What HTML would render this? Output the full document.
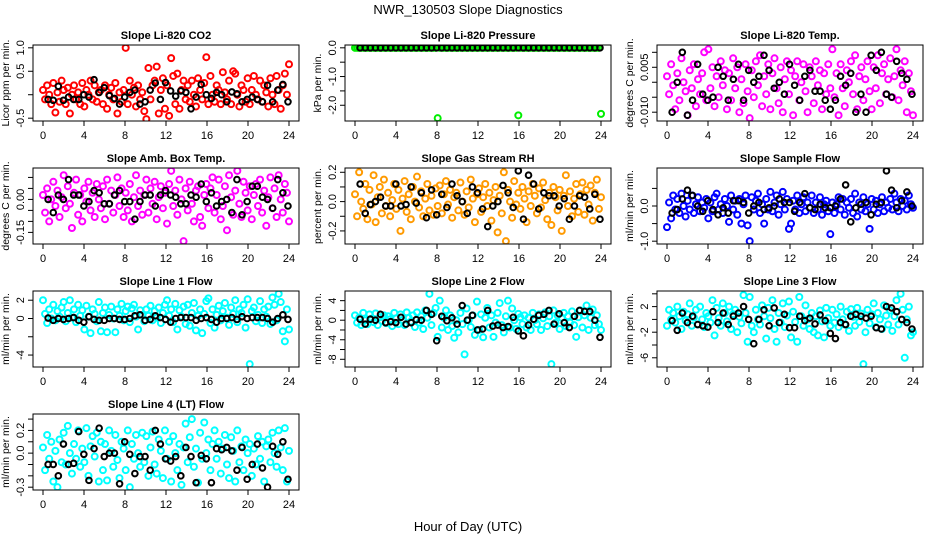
<!DOCTYPE html>
<html><head><meta charset="utf-8"><style>
html,body{margin:0;padding:0;background:#fff;}
svg{display:block;font-family:"Liberation Sans",Arial,sans-serif;}
</style></head><body>
<svg id="chart" width="936" height="540" viewBox="0 0 936 540">
<text x="468" y="14" text-anchor="middle" font-size="13">NWR_130503  Slope Diagnostics</text>
<text x="468" y="531" text-anchor="middle" font-size="13">Hour of Day (UTC)</text>
</svg>
<script>
// ---- data ----
const xTicks = [0,4,8,12,16,20,24];
const panelTitles = ["Slope Li-820 CO2","Slope Li-820 Pressure","Slope Li-820 Temp.","Slope Amb. Box Temp.","Slope Gas Stream RH","Slope Sample Flow","Slope Line 1 Flow","Slope Line 2 Flow","Slope Line 3 Flow","Slope Line 4 (LT) Flow"];
const panelUnits = ["Licor ppm per min.","kPa per min.","degrees C per min.","degrees C per min.","percent per min.","ml/min per min.","ml/min per min.","ml/min per min.","ml/min per min.","ml/min per min."];
const panelColors = ["#ff0000","#00ee00","#ff00ff","#ff00ff","#ff9a00","#0000ff","#00ffff","#00ffff","#00ffff","#00ffff"];
const yLimits = [[-0.5,1.0],[-2.45,0],[-0.012,0.0115],[-0.19,0.13],[-0.27,0.21],[-1.0,1.0],[-5.0,2.7],[-9,5.4],[-7,4],[-0.3,0.32]];
const yTicks = [[-0.5,0,0.5,1.0],[0,-0.5,-1,-1.5,-2],[0.01,0.005,0,-0.005,-0.01],[0.1,0.05,0,-0.05,-0.1,-0.15],[-0.2,-0.1,0,0.1,0.2],[-1,-0.5,0,0.5],[-4,-2,0,2],[-8,-6,-4,-2,0,2,4],[-6,-4,-2,0,2,4],[-0.3,-0.2,-0.1,0,0.1,0.2,0.3]];
const yTickLabels = [["-0.5","","0.5","1.0"],["0.0","","-1.0","","-2.0"],["","0.005","","","-0.010"],["","","0.00","","","-0.15"],["-0.2","","0.0","","0.2"],["-1.0","","0.0",""],["-4","","0","2"],["-8","","-4","","0","","4"],["-6","","-2","","2",""],["-0.3","","","0.0","","0.2",""]];

const co2Color = [0.1,-0.1,0.2,0.0,-0.2,0.25,-0.38,0.05,-0.15,0.3,0.1,-0.2,0.15,-0.4,0.0,0.2,-0.1,0.05,-0.2,0.25,-0.25,0.1,0.0,0.3,-0.1,0.2,-0.15,0.05,0.1,-0.2,0.2,-0.3,0.0,0.15,-0.1,0.25,-0.4,0.05,-0.15,0.1,1.0,-0.2,0.3,0.0,0.15,-0.25,0.2,-0.1,0.05,-0.35,-0.52,0.57,-0.1,0.2,0.3,0.6,-0.4,0.1,0.35,-0.3,0.2,-0.45,0.78,0.4,-0.2,0.45,-0.3,0.1,0.3,-0.1,0.2,-0.15,0.3,0.0,-0.25,0.35,0.1,-0.1,0.25,0.8,-0.2,0.4,0.0,-0.15,0.2,0.1,-0.2,0.48,0.05,-0.1,0.3,-0.2,0.5,0.45,0.0,-0.25,0.2,0.1,-0.15,0.35,-0.2,0.1,0.4,0.0,-0.1,0.3,-0.15,0.2,0.05,-0.25,0.35,0.0,-0.2,0.4,0.1,-0.3,0.2,0.45,0.0,0.65];
const co2Black = [-0.1,-0.12,0.18,-0.12,-0.05,-0.1,-0.1,0.0,-0.05,0.32,0.05,0.15,-0.02,-0.08,-0.2,-0.05,0.05,0.1,-0.2,-0.15,0.1,0.25,-0.1,0.26,0.08,-0.03,0.08,0.05,-0.3,-0.05,0.22,0.0,-0.08,0.05,0.0,-0.15,0.06,0.02,-0.15,-0.1,-0.05,-0.1,-0.15,0.2,-0.15,0.1,0.22,-0.15];
const presColor = [0,0,0,0,0,0,0,0,0,0,0,0,0,0,0,0,0,0,0,0,0,0,0,0,0,0,0,0,0,0,0,0,0,0,0,0,0,0,0,0,-2.45,0,0,0,0,0,0,0,0,0,0,0,0,0,0,0,0,0,0,0,0,0,0,0,0,0,0,0,0,0,0,0,0,0,0,0,0,0,0,-2.35,0,0,0,0,0,0,0,0,0,0,0,0,0,0,0,0,0,0,0,0,0,0,0,0,0,0,0,0,0,0,0,0,0,0,0,0,0,0,0,-2.3];
const presBlack = [0,0,0,0,0,0,0,0,0,0,0,0,0,0,0,0,0,0,0,0,0,0,0,0,0,0,0,0,0,0,0,0,0,0,0,0,0,0,0,0,0,0,0,0,0,0,0,0];
const tempColor = [0.002,-0.004,0.006,-0.001,-0.009,0.003,-0.006,0.008,0.000,-0.003,-0.011,0.004,-0.002,0.006,-0.008,0.001,-0.004,0.003,0.010,-0.006,0.011,-0.002,0.005,-0.008,0.002,-0.005,0.007,-0.001,0.004,-0.009,0.003,-0.006,0.008,-0.002,0.005,-0.010,0.001,-0.007,0.006,-0.003,-0.012,0.004,-0.005,0.007,-0.001,0.009,-0.008,0.002,-0.004,0.006,-0.009,0.003,0.008,-0.002,-0.007,0.005,-0.010,0.001,0.007,-0.004,0.004,-0.011,0.002,0.007,-0.006,0.000,0.006,-0.003,-0.010,0.005,0.002,-0.007,0.007,-0.001,0.004,-0.009,0.003,-0.004,0.006,-0.002,0.011,-0.005,0.003,-0.011,0.006,-0.002,-0.008,0.004,0.000,0.007,-0.004,0.009,-0.009,0.002,0.005,-0.006,0.001,0.007,-0.003,-0.009,0.005,-0.002,0.009,-0.007,0.003,0.006,-0.004,0.001,0.008,-0.005,0.002,0.011,-0.006,0.004,-0.001,0.007,-0.010,0.003,-0.003,-0.011];
const tempBlack = [-0.010,0.000,0.010,-0.011,-0.006,0.006,-0.004,-0.006,-0.005,0.005,0.002,-0.006,0.001,0.006,-0.006,0.004,0.000,0.002,0.009,0.004,-0.002,0.000,-0.004,0.006,-0.001,-0.006,0.002,0.004,-0.003,-0.003,-0.006,-0.009,-0.006,0.002,-0.001,0.003,-0.010,-0.004,-0.010,0.009,0.004,0.010,-0.004,-0.005,0.007,0.003,0.001,-0.004];
const ambColor = [0.02,-0.06,0.05,-0.10,0.00,0.08,-0.03,0.04,-0.08,0.01,0.11,-0.04,0.06,-0.02,-0.13,0.03,0.09,-0.07,0.02,-0.10,0.05,-0.01,0.08,-0.05,0.03,-0.08,0.07,0.00,-0.04,0.06,-0.09,0.09,-0.02,0.04,-0.06,0.02,0.10,-0.03,0.05,-0.08,0.03,-0.05,0.07,-0.10,0.01,0.11,-0.03,0.04,-0.07,0.02,0.09,-0.06,0.05,-0.02,0.08,-0.09,0.01,0.06,-0.04,0.03,-0.11,0.07,0.13,-0.03,0.04,-0.07,0.09,0.00,-0.19,0.05,-0.05,0.08,-0.02,-0.10,0.04,0.06,-0.08,-0.12,0.02,0.07,-0.04,0.05,0.10,-0.06,0.02,0.09,-0.09,-0.03,0.06,-0.14,0.11,0.01,-0.07,0.04,0.13,-0.02,-0.08,0.08,0.03,-0.05,0.06,-0.09,0.02,0.07,-0.03,0.09,-0.06,0.04,-0.12,0.01,0.10,-0.04,0.05,-0.08,0.11,0.00,-0.06,0.07,0.03,-0.10];
const ambBlack = [0.00,-0.06,0.02,0.00,0.09,0.02,0.02,-0.03,-0.01,0.04,0.03,-0.02,-0.02,0.02,0.04,-0.01,-0.01,-0.09,-0.01,0.02,0.02,-0.03,0.02,0.04,0.02,0.01,-0.02,-0.02,0.02,0.01,0.07,-0.01,0.03,-0.03,-0.01,0.00,-0.06,0.09,-0.07,-0.01,0.06,0.06,0.01,0.00,-0.04,0.09,0.03,-0.03];
const rhColor = [0.05,-0.10,0.20,0.00,-0.05,0.12,-0.12,0.08,-0.02,0.18,-0.14,0.03,0.10,-0.08,0.15,-0.03,0.06,-0.10,0.01,0.12,-0.05,0.08,-0.20,0.02,0.14,-0.07,0.05,-0.12,0.10,0.00,0.17,-0.04,0.07,-0.10,0.02,0.12,-0.06,0.04,-0.09,0.09,-0.03,0.11,-0.08,0.05,0.14,-0.02,0.08,-0.11,0.03,0.06,-0.06,0.13,0.00,-0.09,0.07,-0.04,0.15,0.02,-0.14,0.05,0.09,-0.07,0.03,0.12,-0.03,0.06,-0.13,0.01,0.10,-0.21,0.04,-0.08,0.20,-0.27,0.08,0.00,-0.11,0.14,-0.02,0.06,-0.05,0.10,0.02,-0.14,0.07,-0.03,0.12,0.04,-0.08,0.09,-0.04,0.13,0.01,-0.12,0.06,-0.16,0.10,0.03,-0.06,0.08,-0.20,0.04,0.18,-0.03,0.07,-0.10,0.02,0.12,-0.07,0.05,0.13,-0.09,0.08,-0.02,0.11,-0.13,0.06,0.15,-0.05,0.03];
const rhBlack = [0.12,-0.08,-0.02,0.00,0.03,-0.03,-0.03,0.12,-0.03,-0.02,0.10,-0.01,0.06,-0.11,0.08,-0.09,0.05,-0.04,0.12,0.04,0.00,-0.08,0.10,0.06,-0.05,-0.17,-0.03,0.00,0.11,0.06,-0.04,0.21,-0.12,0.18,0.12,-0.05,0.06,0.04,0.04,-0.03,0.02,-0.12,-0.03,0.04,0.03,-0.05,0.05,-0.12];
const sampleColor = [-0.6,0.1,-0.35,0.3,-0.1,0.2,-0.2,0.35,0.0,-0.3,0.15,-0.1,0.3,-0.2,0.05,0.25,-0.15,0.1,-0.05,0.2,-0.35,0.1,-0.15,0.25,0.35,-0.1,0.05,-0.2,0.2,0.0,-0.45,0.3,-0.1,0.15,-0.25,0.2,-0.5,0.05,0.3,-0.55,-1.0,0.25,-0.1,0.15,0.35,-0.2,0.05,-0.5,0.2,-0.1,0.4,-0.15,0.1,0.3,-0.25,0.05,0.4,-0.1,0.2,-0.65,-0.5,0.15,-0.1,0.3,-0.2,0.05,0.25,-0.15,0.1,-0.05,0.3,-0.2,0.1,-0.1,0.25,-0.25,0.05,0.15,-0.15,-0.8,0.1,-0.2,0.05,0.25,-0.1,0.2,-0.25,0.1,-0.05,0.2,-0.2,0.35,-0.3,0.1,-0.1,0.25,-0.15,0.05,-0.65,0.2,-0.1,0.15,-0.2,0.05,0.25,-0.15,0.1,-0.05,0.2,-0.1,0.35,0.1,-0.15,0.2,0.0,0.15,-0.1,0.3,0.05,-0.05];
const sampleBlack = [-0.2,-0.1,0.2,0.45,0.3,0.0,-0.15,0.15,-0.1,-0.25,-0.05,-0.2,0.15,0.15,0.1,-0.2,0.0,0.1,-0.1,-0.05,0.0,0.2,0.1,0.1,-0.15,0.1,0.35,-0.05,-0.1,0.05,-0.05,-0.05,0.0,0.2,0.6,-0.45,-0.05,0.05,0.1,-0.25,0.05,0.1,1.0,0.45,-0.05,0.15,0.4,0.0];
const line1Color = [2.0,0.5,-0.5,1.0,0.0,1.5,-0.2,0.8,0.2,1.2,1.8,-0.3,0.6,2.0,0.1,1.0,-0.4,1.5,0.3,0.9,-1.2,1.4,0.2,-1.6,1.0,0.5,-0.3,1.8,-1.4,0.6,1.2,-1.5,0.4,1.3,0.0,-1.5,1.0,0.3,1.6,-0.2,0.8,1.3,-0.4,1.1,1.5,0.2,-1.2,0.9,0.4,-0.3,1.0,0.3,1.4,-0.2,0.8,0.1,1.2,-0.5,0.6,1.5,2.0,0.3,1.0,-0.4,1.6,-1.2,0.9,0.2,1.3,-0.6,1.5,-0.8,0.6,1.7,-1.3,0.3,1.0,-1.6,0.5,1.9,2.2,-0.5,1.0,-1.0,0.4,1.4,-0.2,0.8,1.7,0.1,-0.7,1.2,0.5,2.0,-0.4,1.0,0.6,1.5,-1.0,2.1,-5.0,0.8,1.2,-0.3,0.4,1.9,-0.5,1.0,0.2,1.3,-0.6,2.3,1.5,-0.2,2.7,1.8,-1.4,-2.5,1.0,-1.2];
const line1Black = [0.05,-0.2,0.0,-0.1,0.0,0.1,-0.2,-0.4,0.2,-0.1,-0.2,-0.2,0.0,0.0,-0.1,-0.1,0.0,0.3,0.4,-0.2,-0.1,0.3,0.1,-0.1,-0.4,0.0,0.1,0.1,0.1,-0.2,0.0,0.1,-0.1,-0.4,0.0,0.0,0.1,-0.1,0.2,0.0,0.1,0.1,0.1,0.0,-0.4,0.0,0.4,-0.1];
const line2Color = [1.0,-0.5,0.5,-1.0,1.5,0.0,-0.8,1.2,0.3,-0.4,1.4,-1.0,0.6,-0.2,1.0,-0.6,0.8,0.2,-1.2,1.5,0.4,-0.8,1.2,0.0,-1.0,1.6,0.5,-0.3,1.0,-1.4,1.6,-0.5,0.8,-1.8,2.0,0.5,5.4,-1.0,1.5,2.5,-3.4,4.0,-1.5,0.5,2.0,-2.0,1.0,-1.2,-3.6,0.0,-2.5,1.5,-0.8,-7.0,2.4,0.0,-1.4,1.0,-3.0,3.8,-2.0,1.2,-3.5,0.5,2.5,-1.5,1.0,-3.4,-0.5,1.5,3.5,-1.0,-2.5,0.8,4.0,-1.5,2.4,0.0,-1.8,1.3,0.6,-0.8,1.0,-1.5,0.5,-2.0,1.5,0.0,-0.8,1.2,-2.0,0.4,1.6,-1.2,0.8,-9.0,2.0,-0.5,1.0,-1.8,0.5,1.5,-1.2,0.8,-0.5,1.8,-1.0,-3.4,0.6,2.0,-1.5,1.0,3.0,-2.0,0.5,2.2,-1.0,1.0,-0.8,-2.0];
const line2Black = [0.2,-0.8,0.2,0.0,1.2,-0.5,-0.3,-0.5,0.6,-0.8,-0.5,0.1,0.0,2.0,1.2,-4.2,0.8,-0.1,0.5,-0.8,3.0,0.0,1.0,-2.0,-1.8,2.0,-1.2,-1.0,-1.5,-1.3,0.6,-2.2,-3.2,-1.0,0.2,1.0,1.2,2.0,-0.8,1.3,-0.5,-1.5,0.8,2.0,1.8,1.8,0.0,-3.5];
const line3Color = [-1.0,1.5,0.0,1.0,-0.5,2.0,0.5,-1.5,1.2,-0.2,0.8,2.5,-1.0,0.3,1.5,-0.8,2.0,0.0,-1.2,1.0,0.5,-0.5,3.0,-2.5,1.8,0.2,-1.0,2.5,1.0,-0.3,2.0,-1.5,0.8,1.5,-2.0,0.4,-0.6,3.8,1.0,-3.5,3.5,-1.0,-2.0,1.5,0.0,-0.8,2.2,0.5,-3.0,1.8,0.2,3.0,-1.5,-3.5,1.0,-0.5,2.5,-1.2,0.6,2.8,-2.8,1.2,-0.4,-3.5,3.5,0.5,-1.0,2.2,0.0,-1.5,1.0,-2.0,0.5,-2.5,1.4,-0.3,-2.8,1.8,0.2,-1.0,1.5,-0.5,0.8,-1.2,2.0,0.0,-0.8,1.2,-1.8,1.6,0.4,-1.0,1.8,-0.4,0.9,-7.0,-2.0,1.5,-0.6,0.8,2.5,-1.2,1.0,0.0,-1.5,2.2,0.6,-0.8,1.4,-1.8,0.5,3.0,-0.8,4.0,1.5,-6.0,0.0,2.0,-2.5,-2.0];
const line3Black = [-0.2,-1.7,1.0,-0.5,0.5,-0.8,-1.0,-1.2,1.2,-0.5,1.0,-0.8,0.5,1.0,2.0,0.0,-3.8,0.0,1.5,-1.0,1.8,-0.5,0.8,-1.3,-1.3,0.5,-0.2,0.2,-0.7,0.7,-0.2,-2.2,-3.0,-0.5,-0.8,0.5,0.8,0.5,0.2,0.5,-1.3,-1.5,2.0,1.8,1.2,0.0,-0.5,-1.5];
const line4Color = [0.05,-0.15,0.16,-0.05,0.10,-0.25,0.02,-0.30,0.12,-0.08,0.18,-0.10,0.24,0.00,-0.18,0.08,-0.05,0.20,-0.12,0.04,-0.08,0.22,-0.20,0.06,0.15,-0.03,0.18,-0.25,0.10,-0.15,0.08,-0.24,0.20,0.02,-0.12,0.16,-0.06,-0.22,0.10,0.04,-0.15,0.20,-0.30,0.08,-0.05,0.16,0.00,-0.12,0.18,-0.08,0.15,-0.20,0.05,0.19,-0.10,-0.18,0.12,0.02,-0.22,0.20,-0.05,0.10,-0.25,0.15,0.00,-0.15,0.08,-0.28,0.05,0.26,-0.08,0.14,0.30,-0.12,0.04,-0.26,0.18,-0.05,0.27,0.00,0.12,-0.15,0.08,0.20,-0.05,0.10,-0.18,0.04,0.16,-0.10,-0.22,0.14,0.02,-0.25,0.20,-0.08,0.06,-0.15,0.12,0.00,0.08,-0.20,0.04,-0.10,0.15,-0.05,0.10,-0.25,0.06,0.12,-0.08,0.18,0.00,-0.12,0.20,0.05,-0.15,0.22,-0.25,0.02];
const line4Black = [-0.1,-0.1,-0.2,0.08,-0.1,-0.09,0.19,-0.01,-0.24,0.04,0.22,-0.03,0.0,0.0,-0.27,0.1,-0.01,-0.18,-0.03,-0.03,-0.15,0.2,0.08,-0.05,-0.07,-0.03,-0.2,0.05,-0.03,-0.26,-0.02,-0.05,-0.26,0.04,0.03,0.05,0.02,-0.15,0.05,-0.23,-0.1,0.08,-0.13,-0.3,0.06,-0.01,0.1,-0.23];

const colorSeries = [co2Color,presColor,tempColor,ambColor,rhColor,sampleColor,line1Color,line2Color,line3Color,line4Color];
const blackSeries = [co2Black,presBlack,tempBlack,ambBlack,rhBlack,sampleBlack,line1Black,line2Black,line3Black,line4Black];

// ---- drawing ----
const NS = "http://www.w3.org/2000/svg";
const svg = document.getElementById("chart");
const colLeft = [33,345,657], rowTop = [45,168,291,414], BW = 266, BH = 76;
function mk(tag, attrs, parent){ const e=document.createElementNS(NS,tag); for(const k in attrs) e.setAttribute(k,attrs[k]); (parent||svg).appendChild(e); return e; }
function slug(s){ return s.toLowerCase().replace(/[^a-z0-9]+/g,'-').replace(/^-|-$/g,''); }

panelTitles.forEach((title, p) => {
  const L = colLeft[p%3], T = rowTop[Math.floor(p/3)];
  const g = mk("g",{});
  
  
  const xs = h => L + 10 + h*(BW-20)/24;
  const [y0,y1] = yLimits[p];
  const pad = (y1-y0)*0.04;
  const ys = v => T + BH - (v-(y0-pad))/((y1+pad)-(y0-pad))*BH;

  const t = mk("text",{x:L+BW/2,y:T-6,"text-anchor":"middle","font-size":"11","font-weight":"bold"},g);
  t.textContent = title;
  
  

  const clip = mk("clipPath",{id:"clip"+p},g);
  mk("rect",{x:L,y:T,width:BW,height:BH},clip);
  const pts = mk("g",{"clip-path":"url(#clip"+p+")"},g);
  const cs = colorSeries[p], n = cs.length;
  cs.forEach((v,i) => {
    const c = mk("circle",{cx:xs(i*24/(n-1)),cy:ys(v),r:3,fill:"none",stroke:panelColors[p],"stroke-width":2},pts);
    
    
  });
  const bs = blackSeries[p], m = bs.length;
  bs.forEach((v,i) => {
    const c = mk("circle",{cx:xs(0.5 + i*23.4/(m-1)),cy:ys(v),r:2.8,fill:"none",stroke:"#000","stroke-width":2},pts);
    
    
  });

  const box = mk("rect",{x:L,y:T,width:BW,height:BH,fill:"none",stroke:"#000","stroke-width":1},g);
  
  

  xTicks.forEach(h => {
    const x = xs(h);
    mk("line",{x1:x,y1:T+BH,x2:x,y2:T+BH+5,stroke:"#000"},g);
    const tl = mk("text",{x:x,y:T+BH+18,"text-anchor":"middle","font-size":"11"},g);
    tl.textContent = h;
    
    
  });
  yTicks[p].forEach((v,k) => {
    const y = ys(v);
    mk("line",{x1:L,y1:y,x2:L-5,y2:y,stroke:"#000"},g);
    const lab = yTickLabels[p][k];
    if (lab) {
      const tl = mk("text",{x:L-9,y:y,"text-anchor":"middle","font-size":"11",transform:"rotate(-90 "+(L-9)+" "+y+")"},g);
      tl.textContent = lab;
      
      
    }
  });
  const yl = mk("text",{x:L-24,y:T+BH/2,"text-anchor":"middle","font-size":"10.5",transform:"rotate(-90 "+(L-24)+" "+(T+BH/2)+")"},g);
  yl.textContent = panelUnits[p];
  
  
});
</script>
</body></html>
